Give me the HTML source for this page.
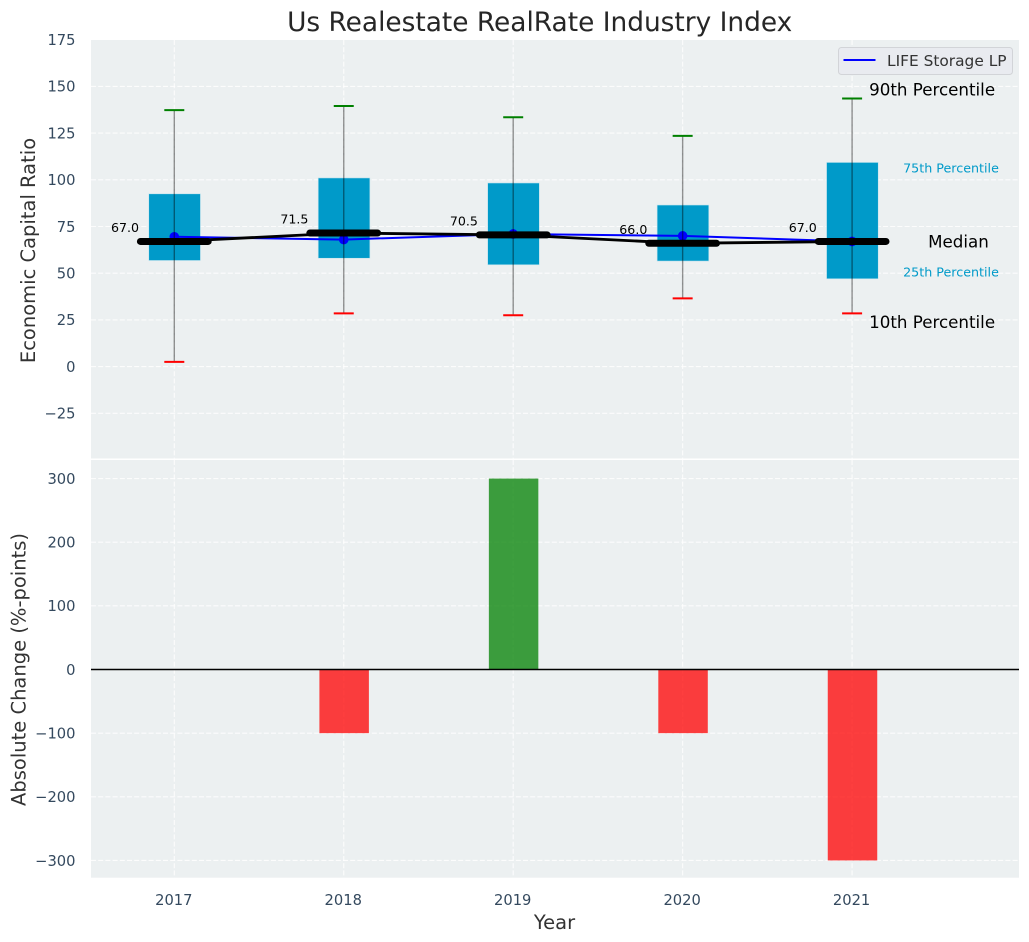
<!DOCTYPE html>
<html lang="en">
<head>
<meta charset="utf-8">
<title>Us Realestate RealRate Industry Index</title>
<style>
html,body{margin:0;padding:0;background:#fff;width:1029px;height:942px;overflow:hidden}
svg{display:block;font-family:"DejaVu Sans","Liberation Sans",sans-serif}
</style>
</head>
<body>
<svg id="chart" width="1029" height="942" viewBox="0 0 1029 942" xmlns="http://www.w3.org/2000/svg">
  <rect x="91" y="40" width="928" height="418.5" fill="#ecf0f1"/>
  <rect x="91" y="460" width="928" height="417.7" fill="#ecf0f1"/>
  <g id="grid"></g>
  <g id="top-marks"></g>
  <g id="bottom-marks"></g>
  <g id="ticks"></g>
  <text x="539.7" y="31" text-anchor="middle" font-size="26.4" fill="#262626">Us Realestate RealRate Industry Index</text>
  <text transform="translate(35,250.5) rotate(-90)" text-anchor="middle" font-size="19.5" fill="#333333">Economic Capital Ratio</text>
  <text transform="translate(25.5,669.5) rotate(-90)" text-anchor="middle" font-size="19.5" fill="#333333">Absolute Change (%-points)</text>
  <text x="554.5" y="929" text-anchor="middle" font-size="19.5" fill="#333333">Year</text>
  <g>
    <rect x="838.5" y="47.5" width="174" height="27" rx="3" fill="#e9ebf0" stroke="#d2d4d8" stroke-width="1"/>
    <line x1="843.5" y1="60" x2="875.5" y2="60" stroke="#0000ff" stroke-width="2"/>
    <text x="887" y="66" font-size="15.4" fill="#333333">LIFE Storage LP</text>
  </g>
</svg>
<script>
const years = [2017, 2018, 2019, 2020, 2021];
const p90 = [137.3, 139.5, 133.5, 123.5, 143.5];
const p75 = [92.5, 101, 98.3, 86.5, 109.3];
const median = [67, 71.5, 70.5, 66, 67];
const p25 = [56.8, 58, 54.5, 56.5, 47];
const p10 = [2.5, 28.5, 27.5, 36.5, 28.5];
const company = [69.5, 68, 71, 70, 67];
const change = [0, -100, 300, -100, -300];
const topTicks = [175, 150, 125, 100, 75, 50, 25, 0, -25];
const bottomTicks = [300, 200, 100, 0, -100, -200, -300];

const NS = 'http://www.w3.org/2000/svg';
const xScale = v => 174.3 + (v - 2017) * 169.45;
const yTop = v => 366.6 - v * 1.868;
const yBot = v => 669.5 - v * 0.6365;

function make(parent, tag, attrs, text) {
  const el = document.createElementNS(NS, tag);
  for (const k in attrs) el.setAttribute(k, attrs[k]);
  if (text !== undefined) el.textContent = text;
  parent.appendChild(el);
  return el;
}
const grid = document.getElementById('grid');
const topG = document.getElementById('top-marks');
const botG = document.getElementById('bottom-marks');
const tickG = document.getElementById('ticks');
const gridStyle = {stroke: '#ffffff', 'stroke-width': 1.1, 'stroke-dasharray': '5 2.2', opacity: 0.85};
const minus = v => String(v).replace('-', '\u2212');

topTicks.forEach(t => {
  const y = yTop(t);
  if (t !== 175) {
    const g = make(grid, 'line', {x1: 91, x2: 1019, y1: y, y2: y, ...gridStyle});
    
    
  }
  const l = make(tickG, 'text', {x: 75.5, y: y + 5.3, 'text-anchor': 'end', 'font-size': 14.7, fill: '#34495e'}, minus(t));
  
  
});
bottomTicks.forEach(t => {
  const y = yBot(t);
  const g = make(grid, 'line', {x1: 91, x2: 1019, y1: y, y2: y, ...gridStyle});
  
  
  const l = make(tickG, 'text', {x: 75.5, y: y + 5.3, 'text-anchor': 'end', 'font-size': 14.7, fill: '#34495e'}, minus(t));
  
  
});
years.forEach(yr => {
  const x = xScale(yr);
  const a = make(grid, 'line', {x1: x, x2: x, y1: 40, y2: 458.5, ...gridStyle});
  
  
  const b = make(grid, 'line', {x1: x, x2: x, y1: 460, y2: 877.7, ...gridStyle});
  
  
  const l = make(tickG, 'text', {x: x - 0.5, y: 905, 'text-anchor': 'middle', 'font-size': 14.7, fill: '#34495e'}, yr);
  
  
});

const boxW = 0.305, medW = 0.4, capW = 0.118, barW = 0.292;
const pts = (arr) => years.map((yr, i) => xScale(yr) + ',' + yTop(arr[i])).join(' ');

years.forEach((yr, i) => {
  const box = make(topG, 'rect', {
    x: xScale(yr - boxW / 2) + 0.3, width: boxW * 169.45,
    y: yTop(p75[i]), height: yTop(p25[i]) - yTop(p75[i]),
    fill: '#009ac9', stroke: '#c4e4ee', 'stroke-width': 0.6
  });
  
  
});

const companyLine = make(topG, 'polyline', {points: pts(company), fill: 'none', stroke: '#0000ff', 'stroke-width': 2});


years.forEach((yr, i) => {
  const dot = make(topG, 'circle', {cx: xScale(yr), cy: yTop(company[i]), r: 4.8, fill: '#0000ff'});
  
  
});

const medianLine = make(topG, 'polyline', {points: pts(median), fill: 'none', stroke: '#000000', 'stroke-width': 2.8});



years.forEach((yr, i) => {
  const x = xScale(yr);
  const med = make(topG, 'line', {
    x1: xScale(yr - medW / 2), x2: xScale(yr + medW / 2),
    y1: yTop(median[i]), y2: yTop(median[i]),
    stroke: '#000000', 'stroke-width': 7, 'stroke-linecap': 'round'
  });
  
  

  const whisk = make(topG, 'line', {x1: x, x2: x, y1: yTop(p90[i]), y2: yTop(p10[i]), stroke: '#000000', 'stroke-opacity': 0.42, 'stroke-width': 1.4});
  
  

  const capT = make(topG, 'line', {x1: xScale(yr - capW / 2), x2: xScale(yr + capW / 2), y1: yTop(p90[i]), y2: yTop(p90[i]), stroke: '#008000', 'stroke-width': 2});
  
  

  const capB = make(topG, 'line', {x1: xScale(yr - capW / 2), x2: xScale(yr + capW / 2), y1: yTop(p10[i]), y2: yTop(p10[i]), stroke: '#ff0000', 'stroke-width': 2});
  
  

  const lab = make(topG, 'text', {x: x - 35.3, y: yTop(median[i]) - 9.4, 'text-anchor': 'end', 'font-size': 12.6, fill: '#000000'}, median[i].toFixed(1));
  
  
});

const last = years.length - 1;
const lastX = xScale(years[last]);
const note = (name, text, x, y, size, color) => {
  const t = make(topG, 'text', {x: x, y: y, 'font-size': size, fill: color}, text);
  
  
};
note('annotation-90th-percentile', '90th Percentile', lastX + 17, yTop(p90[last]) - 3, 16.7, '#000000');
note('annotation-75th-percentile', '75th Percentile', lastX + 51, yTop(p75[last]) + 10.3, 12.7, '#009ac9');
note('annotation-median', 'Median', lastX + 76, yTop(median[last]) + 6.3, 16.7, '#000000');
note('annotation-25th-percentile', '25th Percentile', lastX + 51, yTop(p25[last]) - 2.1, 12.7, '#009ac9');
note('annotation-10th-percentile', '10th Percentile', lastX + 17, yTop(p10[last]) + 14.7, 16.7, '#000000');

years.forEach((yr, i) => {
  if (change[i] === 0) return;
  const y0 = yBot(Math.max(change[i], 0));
  const y1 = yBot(Math.min(change[i], 0));
  const bar = make(botG, 'rect', {
    x: xScale(yr - barW / 2) + 0.4, width: barW * 169.45, y: y0, height: y1 - y0,
    fill: change[i] > 0 ? '#008000' : '#ff0000', 'fill-opacity': 0.75
  });
  
  
});
const zero = make(botG, 'line', {x1: 91, x2: 1019, y1: yBot(0), y2: yBot(0), stroke: '#000000', 'stroke-width': 1.4});


</script>
</body>
</html>
